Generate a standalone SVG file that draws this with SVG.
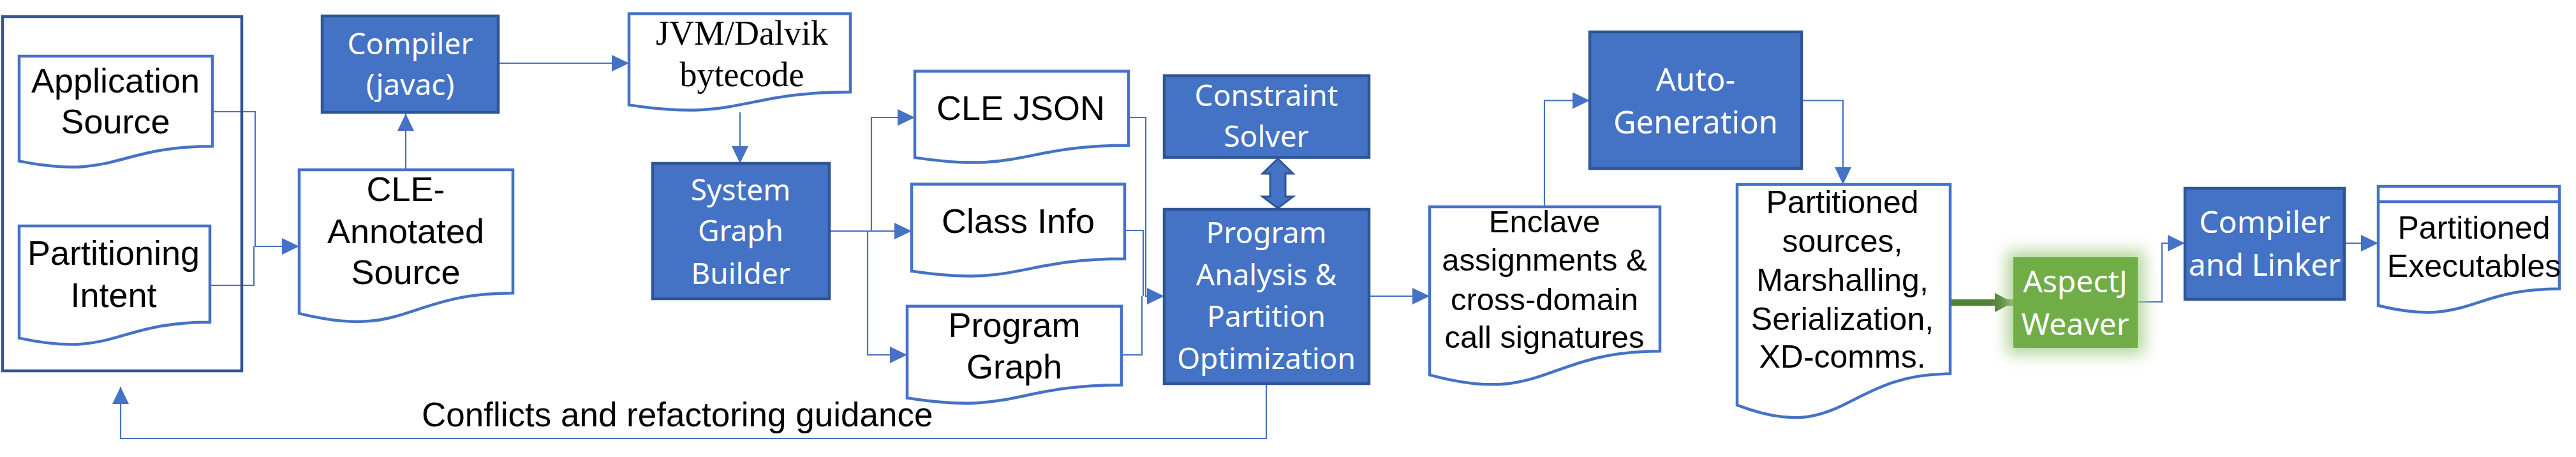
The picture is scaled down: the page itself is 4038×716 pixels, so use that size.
<svg xmlns="http://www.w3.org/2000/svg" width="4038" height="716" viewBox="0 0 4038 716">
<style>
.box{fill:#4472C4;stroke:#2F5597;stroke-width:4.5}
.doc{fill:#fff;stroke:#4472C4;stroke-width:4.5}
.bt{font-family:"Noto Sans","Open Sans",sans-serif;font-size:46px;fill:#fff;text-anchor:middle}
.dt{font-family:"Liberation Sans",Arial,sans-serif;font-size:54px;fill:#000;text-anchor:middle}
.st{font-family:"Liberation Serif","Times New Roman",serif;font-size:54px;fill:#000;text-anchor:middle}
.c{fill:none;stroke:#4472C4;stroke-width:2.2}
</style>
<defs>
<marker id="ah" viewBox="0 0 27 26" refX="27" refY="13" markerWidth="27" markerHeight="26" markerUnits="userSpaceOnUse" orient="auto">
<path d="M0,0 L27,13 L0,26 Z" fill="#4472C4"/>
</marker>
<marker id="gah" viewBox="0 0 29 30" refX="29" refY="15" markerWidth="29" markerHeight="30" markerUnits="userSpaceOnUse" orient="auto">
<path d="M0,0 L29,15 L0,30 Z" fill="#548235"/>
</marker>
<filter id="glow" x="-40%" y="-40%" width="180%" height="180%">
<feMorphology in="SourceAlpha" operator="dilate" radius="10" result="d"/>
<feGaussianBlur in="d" stdDeviation="12" result="b"/>
<feFlood flood-color="#A9D08E" flood-opacity="0.9"/>
<feComposite in2="b" operator="in" result="g"/>
<feMerge><feMergeNode in="g"/><feMergeNode in="SourceGraphic"/></feMerge>
</filter>
</defs>

<g id="connectors">
<path class="c" d="M333,175 H400 V386 H469" marker-end="url(#ah)"/>
<path class="c" d="M329,447 H398 V386"/>
<path class="c" d="M636,266 V178" marker-end="url(#ah)"/>
<path class="c" d="M783,99 H986" marker-end="url(#ah)"/>
<path class="c" d="M1160,176 V256" marker-end="url(#ah)"/>
<path class="c" d="M1300,362 H1366 V184 H1434" marker-end="url(#ah)"/>
<path class="c" d="M1300,362 H1429" marker-end="url(#ah)"/>
<path class="c" d="M1360,362 V556 H1422" marker-end="url(#ah)"/>
<path class="c" d="M1769,184 H1796 V464 H1825" marker-end="url(#ah)"/>
<path class="c" d="M1763,361 H1792 V464"/>
<path class="c" d="M1758,556 H1790 V464"/>
<polygon points="2003,248.5 2027,272 2015,272 2015,308 2027,308 2003,326 1979,308 1991,308 1991,272 1979,272" fill="#4472C4" stroke="#2F5597" stroke-width="3"/>
<path class="c" d="M2146,464 H2241" marker-end="url(#ah)"/>
<path class="c" d="M1985,601 V687 H189 V606" marker-end="url(#ah)"/>
<path class="c" d="M2421,324 V157.5 H2492" marker-end="url(#ah)"/>
<path class="c" d="M2824,157.5 H2889 V289" marker-end="url(#ah)"/>
<path d="M3057,474 H3156" fill="none" stroke="#548235" stroke-width="10" marker-end="url(#gah)"/>
<path class="c" d="M3351,473 H3389 V381 H3425" marker-end="url(#ah)"/>
<path class="c" d="M3675,381 H3728" marker-end="url(#ah)"/>
<text x="661" y="668" font-family="Liberation Sans, Arial, sans-serif" font-size="53" fill="#000">Conflicts and refactoring guidance</text>
</g>

<g id="sources-container">
<rect x="4" y="26" width="375" height="555" fill="none" stroke="#2F5597" stroke-width="4.5"/>
</g>

<g id="application-source">
<path class="doc" d="M30,88 H333 V229.2 C181.5,229.2 181.5,282.9 30,252.4 Z"/>
<text class="dt" x="181" y="145">Application</text>
<text class="dt" x="181" y="209">Source</text>
</g>

<g id="partitioning-intent">
<path class="doc" d="M30,354 H329 V504.8 C179.5,504.8 179.5,562.2 30,529.6 Z"/>
<text class="dt" x="178" y="415">Partitioning</text>
<text class="dt" x="178" y="481">Intent</text>
</g>

<g id="cle-annotated-source">
<path class="doc" d="M469,266 H804 V459.3 C636.5,459.3 636.5,532.9 469,491.1 Z"/>
<text class="dt" x="636" y="315">CLE-</text>
<text class="dt" x="636" y="381">Annotated</text>
<text class="dt" x="636" y="445">Source</text>
</g>

<g id="compiler-javac">
<rect class="box" x="505" y="25" width="276" height="151"/>
<text class="bt" x="643" y="85">Compiler</text>
<text class="bt" x="643" y="149">(javac)</text>
</g>

<g id="jvm-bytecode">
<path class="doc" d="M986,21.5 H1333 V144.2 C1159.5,144.2 1159.5,191 986,164.4 Z"/>
<text class="st" x="1163" y="70">JVM/Dalvik</text>
<text class="st" x="1163" y="135">bytecode</text>
</g>

<g id="system-graph-builder">
<rect class="box" x="1023" y="256" width="277" height="212"/>
<text class="bt" x="1161" y="314">System</text>
<text class="bt" x="1161" y="378">Graph</text>
<text class="bt" x="1161" y="445">Builder</text>
</g>

<g id="cle-json">
<path class="doc" d="M1434,111.5 H1769 V227.8 C1601.5,227.8 1601.5,272.1 1434,246.9 Z"/>
<text class="dt" x="1600" y="188">CLE JSON</text>
</g>

<g id="class-info">
<path class="doc" d="M1429,288.4 H1763 V405.5 C1596,405.5 1596,450.1 1429,424.8 Z"/>
<text class="dt" x="1596" y="365">Class Info</text>
</g>

<g id="program-graph">
<path class="doc" d="M1422,479.7 H1758 V603.2 C1590,603.2 1590,650.3 1422,623.5 Z"/>
<text class="dt" x="1590" y="528">Program</text>
<text class="dt" x="1590" y="593">Graph</text>
</g>

<g id="constraint-solver">
<rect class="box" x="1825" y="118.6" width="321" height="128"/>
<text class="bt" x="1985" y="166">Constraint</text>
<text class="bt" x="1985" y="230">Solver</text>
</g>

<g id="program-analysis">
<rect class="box" x="1825" y="328" width="321" height="273"/>
<text class="bt" x="1985" y="381">Program</text>
<text class="bt" x="1985" y="447">Analysis &amp;</text>
<text class="bt" x="1985" y="512">Partition</text>
<text class="bt" x="1985" y="578">Optimization</text>
</g>

<g id="enclave-assignments">
<path class="doc" d="M2241,324 H2602 V550.2 C2421.5,550.2 2421.5,636.3 2241,587.4 Z"/>
<text class="dt" x="2421" y="364" style="font-size:49px">Enclave</text>
<text class="dt" x="2421" y="424" style="font-size:49px">assignments &amp;</text>
<text class="dt" x="2421" y="486" style="font-size:49px">cross-domain</text>
<text class="dt" x="2421" y="545" style="font-size:49px">call signatures</text>
</g>

<g id="auto-generation">
<rect class="box" x="2492" y="50" width="332" height="214"/>
<text class="bt" x="2658" y="142" style="font-size:49px">Auto-</text>
<text class="bt" x="2658" y="209" style="font-size:49px">Generation</text>
</g>

<g id="partitioned-sources">
<path class="doc" d="M2723,289 H3057 V585.7 C2890,585.7 2890,698.8 2723,634.6 Z"/>
<text class="dt" x="2888" y="334" style="font-size:50px">Partitioned</text>
<text class="dt" x="2888" y="395" style="font-size:50px">sources,</text>
<text class="dt" x="2888" y="456" style="font-size:50px">Marshalling,</text>
<text class="dt" x="2888" y="517" style="font-size:50px">Serialization,</text>
<text class="dt" x="2888" y="576" style="font-size:50px">XD-comms.</text>
</g>

<g id="aspectj-weaver">
<rect x="3156" y="403" width="195" height="142" fill="#70AD47" filter="url(#glow)"/>
<text class="bt" x="3253" y="458" style="font-size:48px">AspectJ</text>
<text class="bt" x="3253" y="525" style="font-size:48px">Weaver</text>
</g>

<g id="compiler-linker">
<rect class="box" x="3425" y="295" width="250" height="174"/>
<text class="bt" x="3550" y="365" style="font-size:48px">Compiler</text>
<text class="bt" x="3550" y="432" style="font-size:48px">and Linker</text>
</g>

<g id="partitioned-executables">
<path class="doc" d="M3728,292 H4012 V452.4 C3870,452.4 3870,513.5 3728,478.8 Z"/>
<line x1="3728" y1="316" x2="4012" y2="316" stroke="#4472C4" stroke-width="4.5"/>
<text class="dt" x="3878" y="374" style="font-size:50px">Partitioned</text>
<text class="dt" x="3878" y="434" style="font-size:50px">Executables</text>
</g>
</svg>
